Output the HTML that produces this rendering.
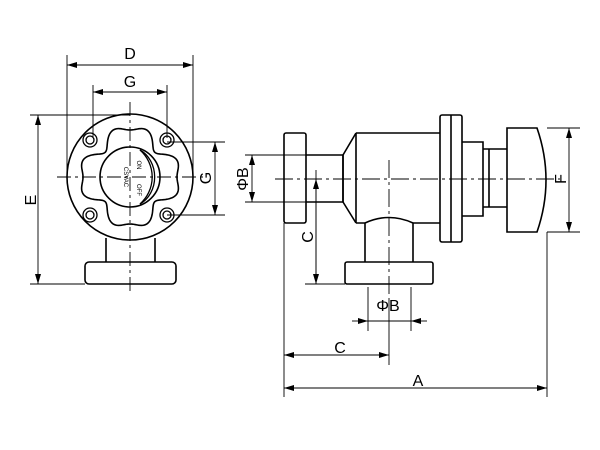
<!DOCTYPE html>
<html><head><meta charset="utf-8"><style>
html,body{margin:0;padding:0;background:#fff;width:600px;height:450px;overflow:hidden}
svg{display:block}
text{font-family:"Liberation Sans",sans-serif;fill:#000}
</style></head><body>
<svg width="600" height="450" viewBox="0 0 600 450" xmlns="http://www.w3.org/2000/svg">
<defs>
<marker id="e" viewBox="0 0 10 6" refX="10" refY="3" markerWidth="10" markerHeight="6" orient="auto" markerUnits="userSpaceOnUse"><path d="M0,0L10,3L0,6z" fill="#000"/></marker>
<marker id="s" viewBox="0 0 10 6" refX="0" refY="3" markerWidth="10" markerHeight="6" orient="auto" markerUnits="userSpaceOnUse"><path d="M10,0L0,3L10,6z" fill="#000"/></marker>
</defs>
<g fill="none" stroke="#000" stroke-width="1.6">
<circle cx="130" cy="177" r="63"/>
<path id="wave" d=""/>
<circle cx="130" cy="177" r="30"/>
<path d="M140,150 A36,36 0 0 1 140,204" stroke-width="1.3"/>
<path d="M140,150 A26,30 0 0 1 140,204" stroke-width="1.3"/>
<g stroke-width="1.3">
<circle cx="90" cy="140" r="7"/><circle cx="90" cy="140" r="4"/>
<circle cx="167" cy="140" r="7"/><circle cx="167" cy="140" r="4"/>
<circle cx="90" cy="215" r="7"/><circle cx="90" cy="215" r="4"/>
<circle cx="167" cy="215" r="7"/><circle cx="167" cy="215" r="4"/>
</g>
<path d="M106,238V262M155,238V262"/>
<rect x="85" y="262" width="91" height="22" rx="4"/>
<rect x="284" y="133" width="22" height="90" rx="2"/>
<path d="M306,155H343V202H306"/>
<path d="M343,155L356,133M343,202L356,223M343,155V202"/>
<path d="M356,133H440M356,223H365M413,223H440M356,133V223"/>
<rect x="440" y="115" width="22" height="127" rx="2"/>
<path d="M451,115V242"/>
<path d="M462,142H483V216H462M483,149H507M483,207H507M483,149V207M489,149V207"/>
<path d="M507,128H537Q555,180 537,232H507Z"/>
<path d="M365,223V262M413,223V262M365,223Q389,212 413,223"/>
<rect x="345" y="262" width="88" height="22" rx="2"/>
</g>
<g fill="none" stroke="#000" stroke-width="0.9">
<path d="M57,177H203M130,102V292" stroke-dasharray="14,4,3,4"/>
<path d="M275,179H560M389,160V300" stroke-dasharray="18,4,3,4"/>
<path d="M67,55V175M193,55V175M93,85V138M167,85V138"/>
<path d="M30,115H130M30,284H85M167,142H225M167,215H225"/>
<g marker-start="url(#s)" marker-end="url(#e)">
<path d="M67,65H193"/>
<path d="M93,92H167"/>
<path d="M38,115V284"/>
<path d="M215,142V215"/>
<path d="M252,155V202"/>
<path d="M316,179V284"/>
<path d="M284,355H389"/>
<path d="M284,388H547"/>
<path d="M569,128V232"/>
</g>
<path d="M245,155H306M245,202H306M316,170V284M305,284H345"/>
<path d="M368,287V331M411,287V331"/>
<path d="M352,321H368" marker-end="url(#e)"/>
<path d="M427,321H411" marker-end="url(#e)"/>
<path d="M368,321H411"/>
<path d="M284,223V397M547,232V397M389,300V365"/>
<path d="M547,128H580M547,232H580"/>
</g>
<g font-size="16">
<text x="130" y="59" text-anchor="middle">D</text>
<text x="130" y="87" text-anchor="middle">G</text>
<text transform="translate(36,200) rotate(-90)" text-anchor="middle">E</text>
<text transform="translate(211,178) rotate(-90)" text-anchor="middle">G</text>
<text transform="translate(248,179) rotate(-90)" text-anchor="middle">ΦB</text>
<text transform="translate(313,237) rotate(-90)" text-anchor="middle">C</text>
<text x="388" y="311" text-anchor="middle">ΦB</text>
<text x="340" y="353" text-anchor="middle">C</text>
<text x="418" y="386" text-anchor="middle">A</text>
<text transform="translate(566,179) rotate(-90)" text-anchor="middle">F</text>
</g>
<g font-size="6">
<text transform="translate(124,177) rotate(90)" text-anchor="middle">CSVAC</text>
<text transform="translate(137,165) rotate(90)" text-anchor="middle">ON</text>
<text transform="translate(137,190) rotate(90)" text-anchor="middle">OFF</text>
</g>
</svg>
<script>
(function(){var p=[];for(var i=0;i<=360;i++){var t=i*Math.PI/180;var r=45+6*Math.cos(4*t)-4*Math.cos(8*t);p.push((i?'L':'M')+(130+r*Math.cos(t)).toFixed(2)+','+(177+r*Math.sin(t)).toFixed(2));}
document.getElementById('wave').setAttribute('d',p.join('')+'Z');})();
</script>
</body></html>
